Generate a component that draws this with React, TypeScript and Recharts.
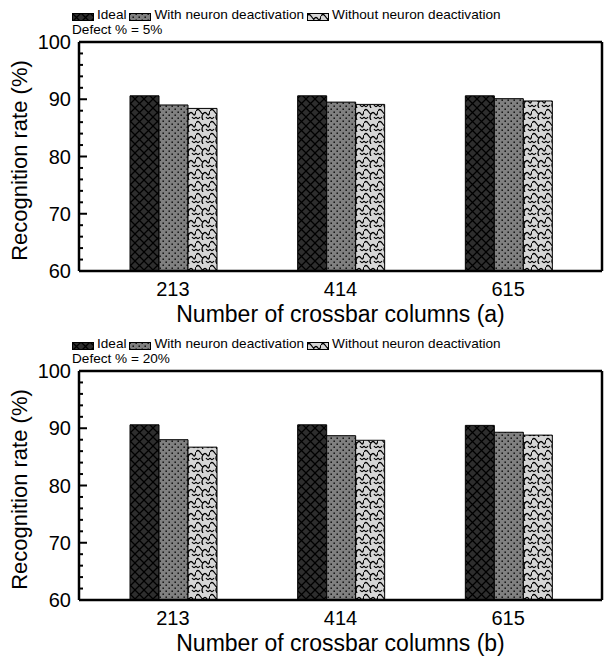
import React from 'react';
import { BarChart, Bar, XAxis, YAxis } from 'recharts';

const categories = ['213', '414', '615'];

const ideal5 = [90.6, 90.6, 90.6];
const withDeact5 = [89.0, 89.5, 90.1];
const withoutDeact5 = [88.4, 89.1, 89.7];

const ideal20 = [90.6, 90.6, 90.5];
const withDeact20 = [88.0, 88.7, 89.3];
const withoutDeact20 = [86.7, 87.9, 88.8];

const yTicks = [60, 62, 64, 66, 68, 70, 72, 74, 76, 78, 80, 82, 84, 86, 88, 90, 92, 94, 96, 98, 100];

const FONT = '"Liberation Sans", Arial, sans-serif';

const buildRows = (ideal: number[], withD: number[], withoutD: number[]) =>
  categories.map((c, i) => ({ cols: c, ideal: ideal[i], withD: withD[i], withoutD: withoutD[i] }));

// hatch patterns shared by bars and legend swatches
const PatternDefs = () => (
  <svg width={0} height={0} style={{ position: 'absolute' }}>
    <defs>
      <pattern id="pIdeal" width={9} height={9} patternUnits="userSpaceOnUse">
        <rect width={9} height={9} fill="#2e2e2e" />
        <path d="M0 0 L9 9 M9 0 L0 9" stroke="#000" strokeWidth={1.3} />
      </pattern>
      <pattern id="pWith" width={6} height={6} patternUnits="userSpaceOnUse">
        <rect width={6} height={6} fill="#808080" />
        <rect x={0.5} y={0.5} width={1.4} height={1.4} fill="#000" />
        <rect x={3.5} y={3.5} width={1.4} height={1.4} fill="#000" />
      </pattern>
      <pattern id="pWithout" width={14} height={12} patternUnits="userSpaceOnUse">
        <rect width={14} height={12} fill="#d6d6d6" />
        <path
          d="M0 3 Q2 0 4 3 T7 6 Q9 3 11 6 T14 3 M7 6 Q5 9 7 12 M0 9 Q2 12 4 9 M14 9 Q12 12 10 9"
          stroke="#000"
          strokeWidth={1.3}
          fill="none"
        />
      </pattern>
    </defs>
  </svg>
);

// inward frame ticks: long at every 10, short at every 2
const LeftTick = (props: any) => {
  const { x, y, payload } = props;
  const major = payload.value % 10 === 0;
  const axisX = x + 8;
  return (
    <g>
      <path d={`M${axisX},${y}h${major ? 8 : 4}`} stroke="#000" strokeWidth={2} fill="none" />
      {major && (
        <text x={x} y={y} dy="0.36em" textAnchor="end" fontSize={20} fontFamily={FONT} fill="#000">
          {payload.value}
        </text>
      )}
    </g>
  );
};

const RightTick = (props: any) => {
  const { x, y, payload } = props;
  const major = payload.value % 10 === 0;
  return <path d={`M${x},${y}h${major ? -8 : -4}`} stroke="#000" strokeWidth={2} fill="none" />;
};

const Swatch = ({ id }: { id: string }) => (
  <svg width={22} height={8} style={{ display: 'block', marginTop: 4 }}>
    <rect x={0.5} y={0.5} width={21} height={7} fill={`url(#${id})`} stroke="#000" strokeWidth={1} />
  </svg>
);

const LegendBlock = ({ defect }: { defect: string }) => (
  <div style={{ position: 'absolute', left: 72, top: 8, fontFamily: FONT, fontSize: 13.6, lineHeight: '13px', color: '#000' }}>
    <div style={{ display: 'flex', alignItems: 'center', gap: 3, whiteSpace: 'nowrap' }}>
      <Swatch id="pIdeal" />
      <span>Ideal</span>
      <Swatch id="pWith" />
      <span>With neuron deactivation</span>
      <Swatch id="pWithout" />
      <span>Without neuron deactivation</span>
    </div>
    <div style={{ marginTop: 1.5 }}>Defect % = {defect}</div>
  </div>
);

const Panel = ({ rows, defect, tag, top }: { rows: any[]; defect: string; tag: string; top: number }) => (
  <div style={{ position: 'absolute', left: 0, top, width: 605, height: 329 }}>
    <LegendBlock defect={defect} />
    <BarChart
      width={605}
      height={329}
      data={rows}
      margin={{ top: 41, right: 2, left: 0, bottom: 0 }}
      barCategoryGap={41}
      barGap={0}
    >
      <XAxis
        dataKey="cols"
        height={58}
        padding={{ left: 10, right: 10 }}
        axisLine={{ stroke: '#000', strokeWidth: 2.5 }}
        tickLine={false}
        tickSize={0}
        tickMargin={11}
        tick={{ fontSize: 20, fontFamily: FONT, fill: '#000' }}
        label={{
          value: `Number of crossbar columns (${tag})`,
          position: 'insideBottom',
          offset: 7,
          fontSize: 23,
          fontFamily: FONT,
          fill: '#000'
        }}
      />
      {/* top frame edge: an axis needs a non-zero box to be drawn */}
      <XAxis
        xAxisId="top"
        orientation="top"
        dataKey="cols"
        height={1}
        tick={false}
        tickLine={false}
        axisLine={{ stroke: '#000', strokeWidth: 2.5 }}
      />
      <YAxis
        domain={[60, 100]}
        ticks={yTicks}
        interval={0}
        width={79}
        allowDataOverflow
        axisLine={{ stroke: '#000', strokeWidth: 2.5 }}
        tickLine={false}
        tickSize={0}
        tickMargin={8}
        tick={<LeftTick />}
        label={{
          value: 'Recognition rate (%)',
          angle: -90,
          position: 'insideLeft',
          offset: 19,
          dy: 4,
          style: { textAnchor: 'middle' },
          fontSize: 22,
          fontFamily: FONT,
          fill: '#000'
        }}
      />
      <YAxis
        yAxisId="right"
        orientation="right"
        domain={[60, 100]}
        ticks={yTicks}
        interval={0}
        width={1}
        axisLine={{ stroke: '#000', strokeWidth: 2.5 }}
        tickLine={false}
        tickSize={0}
        tickMargin={0}
        tick={<RightTick />}
      />
      <Bar dataKey="ideal" fill="url(#pIdeal)" stroke="#000" strokeWidth={1} isAnimationActive={false} />
      <Bar dataKey="withD" fill="url(#pWith)" stroke="#000" strokeWidth={1} isAnimationActive={false} />
      <Bar dataKey="withoutD" fill="url(#pWithout)" stroke="#000" strokeWidth={1} isAnimationActive={false} />
    </BarChart>
  </div>
);

export default function App() {
  return (
    <div style={{ position: 'absolute', left: 0, top: 0, width: 605, height: 659, background: '#fff' }}>
      <PatternDefs />
      <Panel rows={buildRows(ideal5, withDeact5, withoutDeact5)} defect="5%" tag="a" top={0} />
      <Panel rows={buildRows(ideal20, withDeact20, withoutDeact20)} defect="20%" tag="b" top={329} />
    </div>
  );
}
